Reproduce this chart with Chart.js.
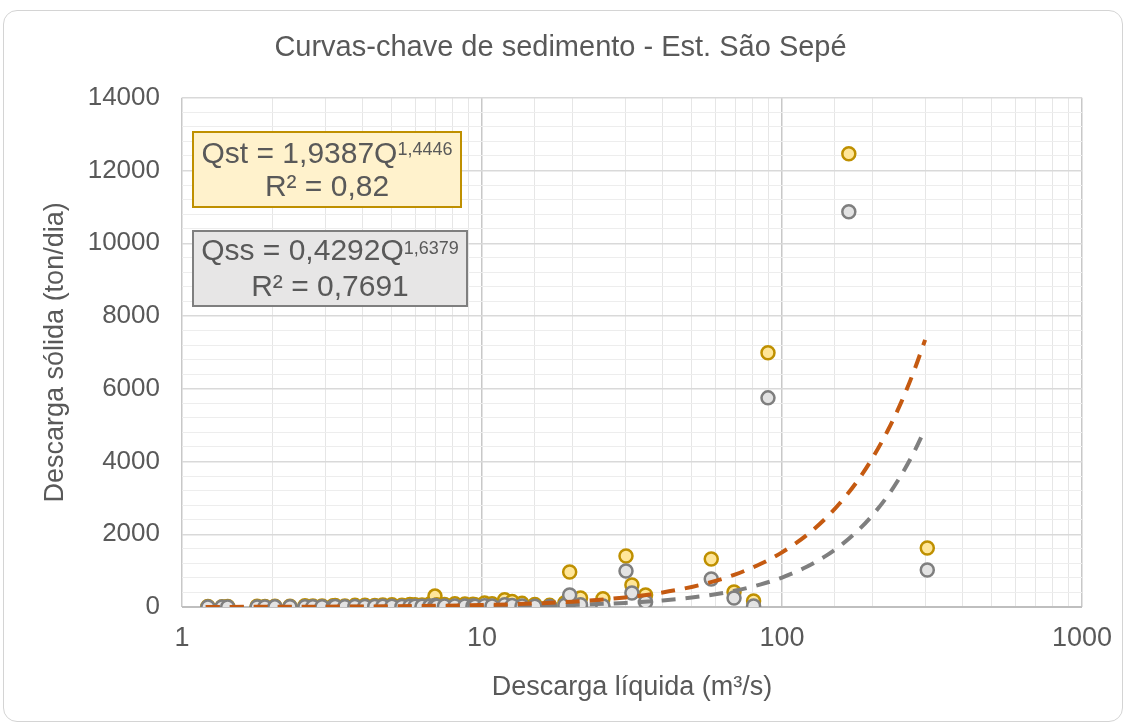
<!DOCTYPE html>
<html>
<head>
<meta charset="utf-8">
<script src="https://cdn.jsdelivr.net/npm/chart.js@4/dist/chart.umd.min.js"></script>
<style>
  body { margin: 0; background: #fff; }
  #frame { position: absolute; left: 3px; top: 10px; width: 1120px; height: 712px; border: 1.5px solid #d4d4d4; border-radius: 14px; box-sizing: border-box; }
  #myChart { position: absolute; left: 0; top: 0; }
</style>
</head>
<body>
<div id="frame"></div>
<canvas id="myChart" width="1129" height="724"></canvas>
<script>
// descarga liquida (m3/s) para cada coleta
const vazoes = [1.22, 1.36, 1.42, 1.78, 1.89, 2.04, 2.29, 2.57, 2.73, 2.93, 3.19, 3.24, 3.49, 3.77, 4.07, 4.39, 4.67, 5.01, 5.41, 5.75, 5.98, 6.31, 6.70, 6.97, 7.07, 7.50, 8.12, 8.77, 9.33, 9.48, 10.2, 10.8, 11.9, 12.6, 13.6, 15.0, 16.8, 18.9, 19.6, 21.3, 25.3, 30.2, 31.6, 35.1, 58.1, 69.2, 80.4, 89.8, 167, 305];
// descarga solida total (ton/dia)
const qst = [15, 10, 12, 20, 15, 18, 20, 35, 25, 30, 35, 40, 30, 45, 50, 40, 55, 60, 50, 70, 65, 55, 80, 300, 60, 70, 90, 85, 75, 60, 110, 90, 200, 150, 100, 70, 45, 120, 963, 250, 230, 1403, 605, 330, 1320, 413, 165, 6988, 12462, 1623];
// descarga solida em suspensao (ton/dia)
const qss = [2, 1, 2, 3, 3, 4, 5, 8, 6, 8, 10, 12, 10, 12, 15, 14, 18, 20, 16, 22, 20, 18, 25, 40, 20, 25, 30, 28, 25, 20, 35, 30, 60, 40, 30, 20, 15, 50, 330, 60, 30, 990, 385, 138, 770, 248, 28, 5750, 10866, 1018];

// curvas-chave
const curvaQ = [1.2, 2, 3, 5, 7, 10, 15, 20, 30, 40, 50, 60, 70, 85, 100, 120, 140, 160, 180, 200, 225, 250, 275, 300];
const curvaQst = [2.5, 5.3, 9.5, 19.8, 32.2, 54, 96.9, 147, 264, 400, 552, 718, 898, 1188, 1502, 1955, 2443, 2961, 3509, 4087, 4845, 5640, 6474, 7346];
const curvaQss = [0.6, 1.3, 2.6, 6, 10.4, 18.6, 36.2, 58, 113, 181, 260, 351, 452, 621, 810, 1092, 1404, 1748, 2119, 2519, 3053, 3634, 4247, 4897];

const titulo = 'Curvas-chave de sedimento - Est. São Sepé';
const eixoX = 'Descarga líquida (m³/s)';
const eixoY = 'Descarga sólida (ton/dia)';
const xTicks = [1, 10, 100, 1000];

const fonte = '"Liberation Sans", Arial, sans-serif';
const cinzaTexto = '#595959';

const pares = (xs, ys) => xs.map((x, i) => ({ x, y: ys[i] }));

// caixas com as equacoes
const caixas = {
  id: 'caixas',
  afterDraw(chart) {
    const ctx = chart.ctx;
    const desenha = (x, y, w, h, fill, stroke, base, sup, r2, b1, b2) => {
      ctx.save();
      ctx.fillStyle = fill;
      ctx.strokeStyle = stroke;
      ctx.lineWidth = 2;
      ctx.fillRect(x, y, w, h);
      ctx.strokeRect(x, y, w, h);
      ctx.fillStyle = cinzaTexto;
      ctx.textBaseline = 'alphabetic';
      ctx.font = `30px ${fonte}`;
      const wb = ctx.measureText(base).width;
      ctx.font = `18px ${fonte}`;
      const ws = ctx.measureText(sup).width;
      const x0 = x + (w - wb - ws) / 2;
      ctx.font = `30px ${fonte}`;
      ctx.textAlign = 'left';
      ctx.fillText(base, x0, y + b1);
      ctx.font = `18px ${fonte}`;
      ctx.fillText(sup, x0 + wb, y + 23);
      ctx.font = `30px ${fonte}`;
      ctx.textAlign = 'center';
      ctx.fillText(r2, x + w / 2, y + b2);
      ctx.restore();
    };
    desenha(193, 132, 268, 75, '#FFF2CC', '#BF9000', 'Qst = 1,9387Q', '1,4446', 'R² = 0,82', 31, 64);
    desenha(193, 231, 274, 75, '#E7E6E6', '#7F7F7F', 'Qss = 0,4292Q', '1,6379', 'R² = 0,7691', 29, 65);
  }
};

const config = {
  type: 'scatter',
  data: {
    datasets: [
      {
        label: 'Curva Qst',
        type: 'line',
        data: pares(curvaQ, curvaQst),
        borderColor: '#C55A11',
        borderWidth: 4,
        borderDash: [14, 10],
        pointRadius: 0,
        cubicInterpolationMode: 'monotone',
        fill: false,
        order: 0,
      },
      {
        label: 'Curva Qss',
        type: 'line',
        data: pares(curvaQ, curvaQss),
        borderColor: '#7F7F7F',
        borderWidth: 4,
        borderDash: [14, 10],
        pointRadius: 0,
        cubicInterpolationMode: 'monotone',
        fill: false,
        order: 0,
      },
      {
        label: 'Qss',
        data: pares(vazoes, qss),
        backgroundColor: '#E3E3E3',
        borderColor: '#7F7F7F',
        borderWidth: 2.5,
        pointRadius: 6.5,
        order: 1,
      },
      {
        label: 'Qst',
        data: pares(vazoes, qst),
        backgroundColor: '#FFE699',
        borderColor: '#BF9000',
        borderWidth: 2.5,
        pointRadius: 6.5,
        order: 2,
      },
    ]
  },
  options: {
    responsive: false,
    animation: false,
    layout: { padding: { left: 39, right: 47, top: 31, bottom: 20 } },
    plugins: {
      legend: { display: false },
      tooltip: { enabled: false },
      title: {
        display: true,
        text: titulo,
        color: cinzaTexto,
        font: { family: fonte, size: 29, weight: 'normal' },
        padding: { top: 0, bottom: 32 },
      },
    },
    scales: {
      x: {
        type: 'logarithmic',
        min: 1,
        max: 1000,
        border: { display: false },
        grid: {
          color: (c) => xTicks.includes(c.tick && c.tick.value) ? '#C8C8C8' : '#E6E6E6',
          lineWidth: (c) => xTicks.includes(c.tick && c.tick.value) ? 1.5 : 1,
          drawTicks: false,
        },
        ticks: {
          autoSkip: false,
          maxRotation: 0,
          padding: 15,
          color: cinzaTexto,
          font: { family: fonte, size: 27 },
          callback: (v) => xTicks.includes(v) ? String(v) : '',
        },
        title: {
          display: true,
          text: eixoX,
          color: cinzaTexto,
          font: { family: fonte, size: 27 },
          padding: { top: 8, bottom: 0 },
        },
        afterFit: (s) => { s.height = 97; },
      },
      y: {
        min: 0,
        max: 14000,
        border: { display: false },
        grid: {
          color: (c) => c.tick && c.tick.value === 0 ? '#BFBFBF' : (c.tick && c.tick.value % 2000 === 0 ? '#D9D9D9' : '#EDEDED'),
          lineWidth: (c) => c.tick && c.tick.value === 0 ? 2 : (c.tick && c.tick.value % 2000 === 0 ? 1.5 : 1),
          drawTicks: false,
        },
        ticks: {
          stepSize: 400,
          autoSkip: false,
          padding: 22,
          color: cinzaTexto,
          font: { family: fonte, size: 26 },
          callback: (v) => v % 2000 === 0 ? String(v) : '',
        },
        title: {
          display: true,
          text: eixoY,
          color: cinzaTexto,
          font: { family: fonte, size: 27 },
          padding: { top: 0, bottom: 6 },
        },
        afterFit: (s) => { s.width = 143; },
      },
    },
  },
  plugins: [caixas],
};

const canvas = document.getElementById('myChart').getContext('2d');
const myChart = new Chart(canvas, config);
</script>
</body>
</html>
